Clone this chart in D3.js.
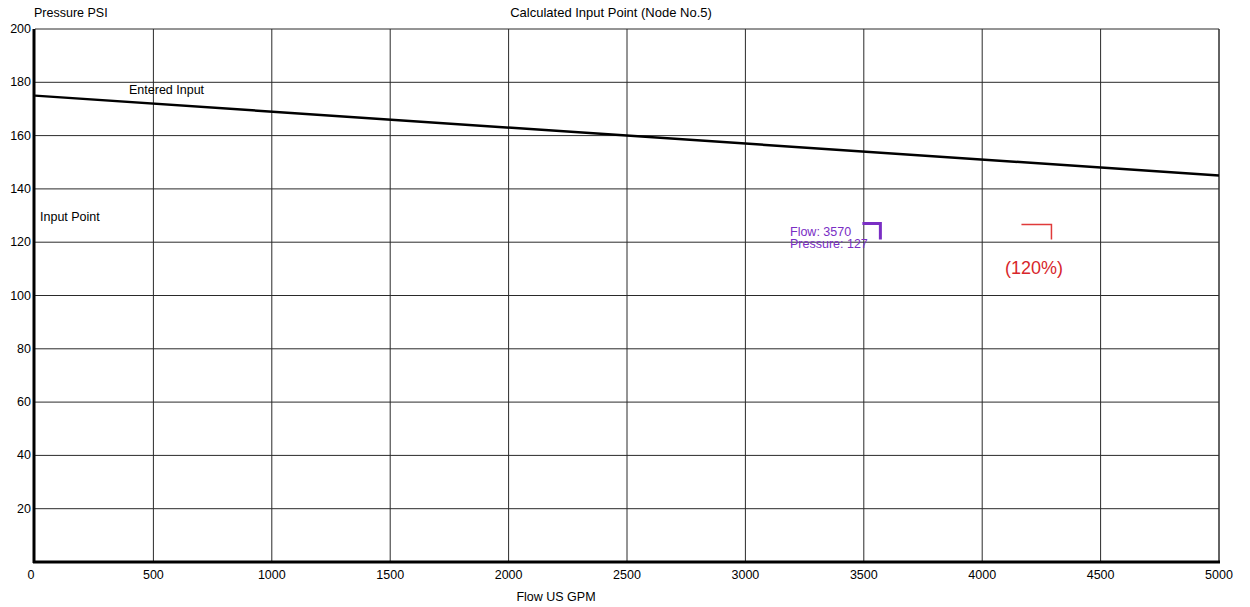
<!DOCTYPE html>
<html><head><meta charset="utf-8">
<script src="https://cdn.jsdelivr.net/npm/d3@7"></script>
<style>body{margin:0;background:#fff}svg{display:block}text{font-family:"Liberation Sans",Arial,sans-serif;fill:#000}</style>
</head><body><svg id="c" width="1250" height="607"></svg>
<script>
const xTicks = [0,500,1000,1500,2000,2500,3000,3500,4000,4500,5000];
const yTicks = [20,40,60,80,100,120,140,160,180,200];
const curveFlow = [0,5000];
const curvePressure = [175,145];
const calcFlow = 3570, calcPressure = 127, pct = 1.2;
const titles = {y:"Pressure  PSI", top:"Calculated Input Point (Node No.5)", x:"Flow  US GPM"};

const svg = d3.select("#c");
const L=35,R=1219,T=29,B=562;
const x = d3.scaleLinear().domain([0,5000]).range([L,R]);
const y = d3.scaleLinear().domain([0,200]).range([B,T]);

// grid
svg.append("g").selectAll("line").data(xTicks.slice(1)).join("line")
 .attr("x1",d=>x(d)).attr("x2",d=>x(d)).attr("y1",T).attr("y2",B).attr("stroke","#2a2a2a").attr("stroke-width",1);
svg.append("g").selectAll("line").data(yTicks).join("line")
 .attr("x1",L).attr("x2",R).attr("y1",d=>y(d)).attr("y2",d=>y(d)).attr("stroke","#2a2a2a").attr("stroke-width",1);
// border
svg.append("line").attr("x1",R).attr("x2",R).attr("y1",T).attr("y2",B).attr("stroke","#333");
svg.append("line").attr("x1",L-1).attr("x2",L-1).attr("y1",T).attr("y2",B+1).attr("stroke","#000").attr("stroke-width",3);
svg.append("line").attr("x1",L-2).attr("x2",R+1).attr("y1",B).attr("y2",B).attr("stroke","#000").attr("stroke-width",3);

// tick labels
svg.append("g").selectAll("text").data(yTicks).join("text")
 .attr("x",L-4).attr("y",d=>y(d)+4).attr("text-anchor","end").attr("font-size",12.5).text(d=>d);
svg.append("g").selectAll("text").data(xTicks).join("text")
 .attr("x",d=>x(d)-(d===0?4:0)).attr("y",B+17).attr("text-anchor","middle").attr("font-size",12.5).text(d=>d);

// titles
svg.append("text").attr("x",34).attr("y",17).attr("font-size",12.5).text(titles.y);
svg.append("text").attr("x",611).attr("y",17).attr("text-anchor","middle").attr("font-size",13).text(titles.top);
svg.append("text").attr("x",556).attr("y",601).attr("text-anchor","middle").attr("font-size",12.5).text(titles.x);

// curve
const line = d3.line().x(d=>x(d[0])).y(d=>y(d[1]));
svg.append("path").attr("d",line(d3.zip(curveFlow,curvePressure))).attr("fill","none").attr("stroke","#000").attr("stroke-width",2.5);
svg.append("text").attr("x",129).attr("y",94).attr("font-size",12.5).text("Entered Input");
svg.append("text").attr("x",40).attr("y",221).attr("font-size",12.5).text("Input Point");

// calculated point marker (purple)
const px=x(calcFlow), py=y(calcPressure);
svg.append("path").attr("d",`M${px-18},${py}H${px}V${py+16}`).attr("fill","none").attr("stroke","#7a2ec4").attr("stroke-width",3);
svg.append("text").attr("x",790).attr("y",236).attr("font-size",12.5).style("fill","#7a2ec4").text("Flow: "+calcFlow);
svg.append("text").attr("x",790).attr("y",248).attr("font-size",12.5).style("fill","#7a2ec4").text("Pressure: "+calcPressure);

// 120% marker (red)
const rx=x(calcFlow*pct);
svg.append("path").attr("d",`M${rx-28},${py+1}H${rx+2}V${py+16}`).attr("fill","none").attr("stroke","#e03a3a").attr("stroke-width",1.5);
svg.append("text").attr("x",1005).attr("y",274).attr("font-size",18).style("fill","#d8262b").text("("+Math.round(pct*100)+"%)");
</script></body></html>
